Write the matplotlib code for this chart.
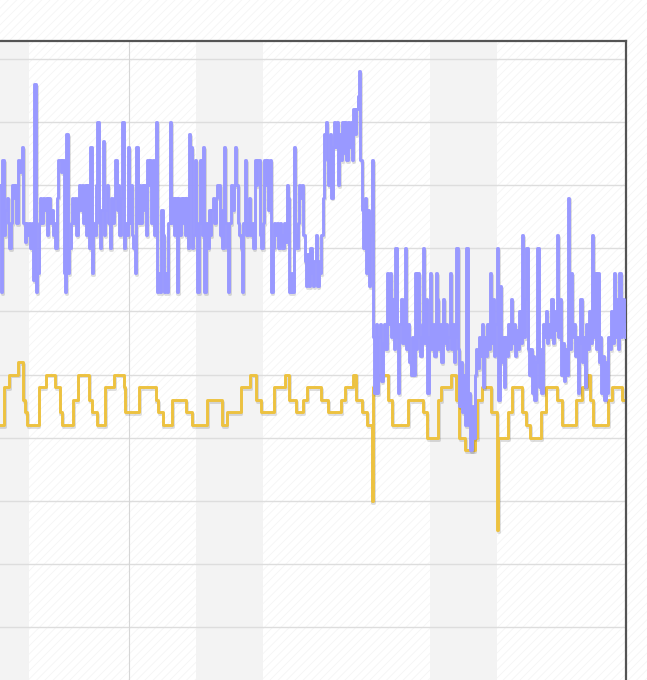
import numpy as np
import matplotlib
matplotlib.use("Agg")
import matplotlib.pyplot as plt
import matplotlib.patheffects as pe
from matplotlib.patches import Rectangle

plt.rcParams['hatch.linewidth'] = 0.6

# ---------------- data ----------------
# hours since Saturday 00:00 of the first visible weekend
blue_start_hour = 27
blue_a = [80, 63, 84, 72, 76, 78, 74, 70, 74, 80, 78, 80, 74, 84, 82, 84, 86, 74, 71, 74, 72, 74, 70, 74, 65,
          96, 63, 66, 74, 78, 74, 78, 76, 78, 72, 78, 74, 76, 72, 74, 70, 78, 84, 84, 82, 84, 66, 63, 88, 66,
          70, 74, 78, 74, 78, 72, 78, 80, 76, 80, 74, 80, 72, 80, 70, 86, 66, 74, 72, 80, 90, 74, 70, 76, 87,
          72, 76, 80, 74, 70, 78, 74, 78, 84, 76, 80, 72, 78, 90, 70, 74, 72, 86, 74, 80, 72, 70, 66, 86, 74]
blue_b = [80, 74, 80, 76, 80, 72, 84, 80, 84, 74, 84, 72, 90, 63, 66, 63, 76, 72, 63, 66, 63, 74, 90, 74, 78,
          72, 78, 63, 78, 72, 78, 74, 78, 72, 78, 70, 88, 86, 70, 72, 84, 74, 63, 74, 84, 72, 86, 63, 74, 70,
          76, 72, 76, 78, 74, 78, 80, 80, 72, 76, 70, 86, 74, 70, 63, 74, 80, 76, 80, 86, 80, 74, 72, 70, 63,
          74, 84, 72, 74, 78, 72, 74, 70, 84, 80, 84, 84, 72, 70, 74, 84, 80, 84, 76, 84, 63, 70, 74, 72, 74]
blue_c = [70, 74, 72, 70, 74, 71, 80, 78, 63, 66, 63, 86, 72, 70, 74, 80, 78, 80, 72, 68, 64, 69, 64, 70, 66,
          64, 68, 72, 64, 68, 66, 72, 78, 88, 90, 84, 80, 88, 78, 86, 90, 86, 90, 80, 88, 84, 90, 85, 90, 84,
          90, 86, 90, 84, 92, 88, 92, 94, 98, 84, 76, 70, 78, 66, 76, 64, 72, 84, 56, 47, 58, 47, 56, 58, 49,
          55, 58, 54, 66, 58, 66, 56, 62, 54, 70, 56, 47, 58, 62, 55, 62, 70, 54, 58, 52, 50, 56, 50, 66, 54]
blue_d = [66, 56, 53, 58, 70, 55, 62, 47, 56, 66, 54, 58, 53, 66, 62, 54, 58, 52, 62, 55, 58, 54, 56, 66, 54,
          58, 52, 56, 70, 54, 45, 52, 44, 50, 42, 70, 42, 47, 38, 45, 40, 50, 54, 51, 56, 53, 58, 48, 56, 53,
          58, 54, 66, 55, 62, 53, 58, 70, 46, 64, 52, 56, 48, 56, 53, 58, 54, 62, 55, 58, 53, 57, 54, 60, 55,
          72, 56, 62, 70, 54, 50, 54, 47, 53, 46, 52, 70, 48, 54, 47, 58, 56, 60, 55, 58, 56, 62, 55, 60, 57]
blue_e = [72, 56, 62, 50, 55, 49, 54, 50, 78, 54, 66, 56, 58, 53, 56, 47, 55, 62, 52, 56, 48, 58, 54, 60, 55,
          72, 56, 66, 54, 66, 52, 56, 47, 53, 46, 52, 47, 56, 54, 60, 55, 66, 56, 62, 54, 66, 56, 62, 58, 56]

yellow_hours = [26, 30, 34, 40, 44, 45, 47, 55, 60, 67, 70, 72, 80, 83, 91, 93, 97, 103, 109, 116, 117,
                127, 139, 141, 144, 151, 161, 165, 176, 187, 190, 200, 207, 211, 215, 224, 232, 235,
                240, 245, 248, 258, 263, 272, 275, 281, 283, 287, 291, 294, 295, 298, 306, 309, 320,
                331, 334, 342, 344, 351, 355, 357, 361, 368, 370, 373, 380, 384, 385, 392, 395, 402,
                405, 408, 416, 419, 427, 431, 441, 445, 449, 451, 453, 464, 467, 474, 476]
yellow_vals = [42, 48, 50, 52, 46, 44, 42, 48, 50, 48, 44, 42, 46, 50, 46, 44, 42, 48, 50, 48, 44,
               48, 46, 44, 42, 46, 44, 42, 46, 42, 44, 48, 50, 46, 44, 48, 50, 46,
               44, 46, 48, 46, 44, 46, 48, 50, 46, 44, 42, 30, 48, 50, 46, 42, 46,
               44, 40, 46, 48, 50, 46, 40, 38, 40, 46, 48, 44, 25.4, 40, 44, 48, 44,
               42, 40, 44, 48, 46, 42, 46, 48, 50, 46, 42, 46, 48, 46, 46]

weekend_starts = [0, 168, 336]
weekend_length = 48
month_line_hour = 120
y_grid = list(range(0, 101, 10))

blue_vals = blue_a + blue_b + blue_c + blue_d + blue_e
blue_hours = np.arange(blue_start_hour, blue_start_hour + len(blue_vals))

# ---------------- figure ----------------
W, H = 647, 680
fig = plt.figure(figsize=(W / 100, H / 100), dpi=100)
fig.patch.set_facecolor('white')
bg = Rectangle((0, 0), 1, 1, transform=fig.transFigure, facecolor='white',
               edgecolor='#f5f5f5', hatch='////', lw=0, zorder=-10)
fig.patches.append(bg)

left_px, right_px, top_px, bottom_px = -60, 626, 41, 690.5
ax = fig.add_axes([left_px / W, (H - bottom_px) / H,
                   (right_px - left_px) / W, (bottom_px - top_px) / H])
ax.set_facecolor('none')

ax.set_xlim(-15.8, 476.7)
ax.set_ylim(0, 102.77)

for s in weekend_starts:
    ax.axvspan(s, s + weekend_length, color='#f3f3f3', lw=0, zorder=0)

for v in y_grid:
    ax.axhline(v, color='#dddddd', lw=1.0, zorder=0.5)
ax.axvline(month_line_hour, color='#d6d6d6', lw=0.8, zorder=0.5)

shadow = [pe.SimpleLineShadow(offset=(0.6, -1.4), shadow_color='black', alpha=0.13), pe.Normal()]

ax.plot(yellow_hours, yellow_vals, drawstyle='steps-post', color='#edc240', lw=2.1,
        zorder=2, path_effects=shadow)
ax.plot(blue_hours, blue_vals, drawstyle='steps-post', color='#9999ff', lw=2.1,
        zorder=3, path_effects=shadow)

for side in ['left', 'bottom']:
    ax.spines[side].set_visible(False)
for side in ['top', 'right']:
    ax.spines[side].set_color('#545454')
    ax.spines[side].set_linewidth(1.6)
ax.tick_params(length=0, labelleft=False, labelbottom=False)

fig.savefig('out.png', dpi=100)
